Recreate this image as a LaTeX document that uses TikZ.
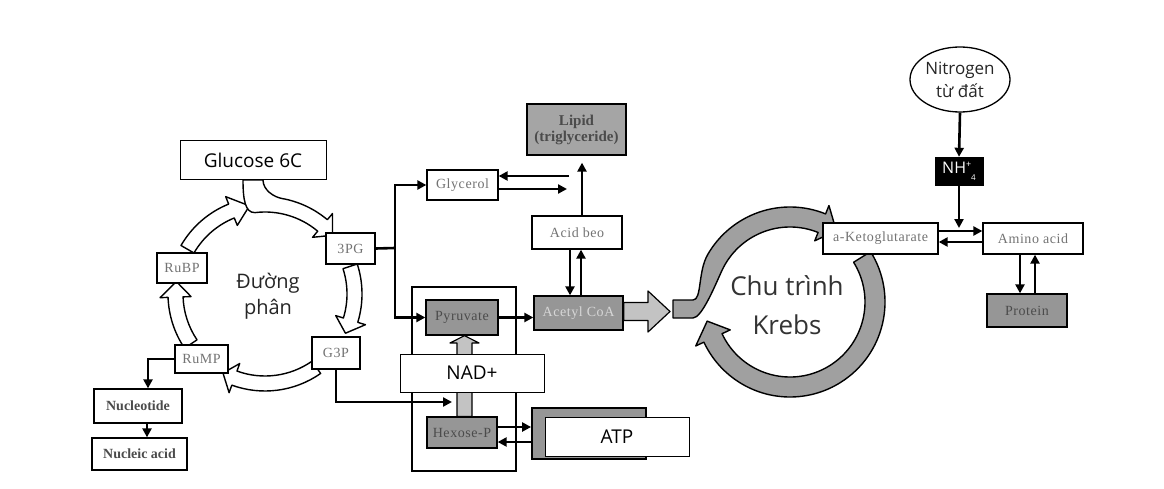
\documentclass[tikz,border=0pt]{standalone}
\usepackage{fontspec}
\setmainfont{Liberation Serif}
\newfontfamily\sansf{Open Sans}
\newfontfamily\lsf[LetterSpace=4]{Liberation Serif}
\usetikzlibrary{arrows.meta,shapes.geometric,calc}
\definecolor{boxgray}{RGB}{150,150,150}
\definecolor{lipgray}{RGB}{165,165,165}
\definecolor{arcgray}{RGB}{160,160,160}
\definecolor{ltgray}{RGB}{195,195,195}
\definecolor{txtgray}{RGB}{115,115,115}
\definecolor{darktxt}{RGB}{75,75,75}
\definecolor{lighttxt}{RGB}{215,215,215}
\newcommand{\harc}[3]{%
  \draw[hollow] (#1:97pt) arc[start angle=#1, end angle=#2, radius=97pt] -- (#2:105pt) -- (#3:89.5pt) -- (#2:74pt) -- (#2:82pt) arc[start angle=#2, end angle=#1, radius=82pt] -- cycle;}
\tikzset{
  box/.style={draw=black, line width=1.3pt, fill=white, inner sep=0pt, font=\lsf\fontsize{14pt}{16pt}\selectfont, text=txtgray},
  gbox/.style={box, fill=boxgray, text=darktxt},
  sbox/.style={draw=black, line width=1pt, fill=white, inner sep=0pt, font=\sansf\fontsize{19pt}{22pt}\selectfont},
  arr/.style={line width=2.6pt, -{Triangle[length=9pt,width=9pt]}},
  ln/.style={line width=2.6pt},
  hollow/.style={draw=black, line width=1.4pt, fill=white, line join=round},
  grayarc/.style={draw=black, line width=1.4pt, fill=arcgray, line join=round},
}
\begin{document}
\begin{tikzpicture}[x=1pt,y=1pt]
\fill[white] (0,0) rectangle (1164,-489);
\useasboundingbox (0,0) rectangle (1164,-489);

% ---------- glycolysis cycle ----------
\begin{scope}[shift={(265,-294)}]
  \harc{150}{112}{100}
  \harc{18}{-17}{-26}
  \harc{-55}{-110}{-118}
  \harc{214}{182}{172}
  % glucose band merging into the arc towards 3PG
  \draw[hollow] (-22,114) .. controls (-22,95) and (-20,81) .. (97:82pt)
     arc[start angle=97, end angle=50, radius=82pt] -- (50:74pt) -- (41:89.5pt) -- (50:105pt) -- (50:97pt)
     arc[start angle=50, end angle=80, radius=97pt] .. controls (8.8,97) and (-2,104) .. (-2,114) -- cycle;
\end{scope}
\node[font=\sansf\fontsize{20pt}{26pt}\selectfont, align=center, text=black!85] (gly) at (268,-296) {Đường\\phân};

\node[sbox, minimum width=146pt, minimum height=39pt] (glu) at (253,-160.5) {Glucose 6C};
\node[box, minimum width=50pt, minimum height=30pt] (rubp) at (182,-268) {RuBP};
\node[box, minimum width=49pt, minimum height=31pt] (pg) at (350.5,-248.5) {3PG};
\node[box, minimum width=48pt, minimum height=32pt] (g3p) at (336,-353) {G3P};
\node[box, minimum width=53pt, minimum height=28pt] (rump) at (201.5,-359) {RuMP};
\node[box, font=\bfseries\fontsize{14pt}{16pt}\selectfont, text=darktxt, minimum width=88pt, minimum height=34pt] (nucl) at (138,-406) {Nucleotide};
\node[box, font=\bfseries\fontsize{14pt}{16pt}\selectfont, text=darktxt, minimum width=95pt, minimum height=32pt] (nacid) at (139.5,-454) {Nucleic acid};

\draw[arr] (rump.west) -| ([xshift=10pt]nucl.north);
\draw[arr] ([xshift=9pt]nucl.south) -- ([xshift=9pt]nucl.south |- nacid.north);

% ---------- middle ----------
\node[draw=black, line width=1.2pt, minimum width=104pt, minimum height=184pt, inner sep=0pt] (big) at (464,-379) {};
\node[box, minimum width=71pt, minimum height=30pt] (glyc) at (462.5,-185) {Glycerol};
\node[box, fill=lipgray, text=darktxt, font=\bfseries\fontsize{15pt}{16pt}\selectfont, align=center, minimum width=99pt, minimum height=51pt] (lipid) at (576.5,-129.5) {Lipid\\(triglyceride)};
\node[box, minimum width=90pt, minimum height=33pt] (acid) at (577,-232.5) {Acid beo};
\node[gbox, text=lighttxt, minimum width=89pt, minimum height=34pt] (acetyl) at (578.5,-313) {Acetyl CoA};
\node[gbox, minimum width=72pt, minimum height=35pt] (pyr) at (462,-317.5) {Pyruvate};
\node[gbox, minimum width=70pt, minimum height=31pt] (hex) at (462,-432.5) {Hexose-P};
\draw[draw=black, line width=1.2pt, fill=ltgray, line join=round]
  ([xshift=-5pt]hex.north) -- ([xshift=-5pt]hex.north |- 0,-343) -- ([xshift=-12pt]hex.north |- 0,-343)
  -- ([xshift=2.5pt]pyr.south) -- ([xshift=17pt]hex.north |- 0,-343) -- ([xshift=10pt]hex.north |- 0,-343)
  -- ([xshift=10pt]hex.north) -- cycle;
\node[sbox, minimum width=144pt, minimum height=38pt] (nad) at (472,-373) {NAD+};
\node[draw=black, line width=1.8pt, fill=boxgray, minimum width=114pt, minimum height=51pt, inner sep=0pt] (gbx) at (589,-433.5) {};
\node[sbox, minimum width=144pt, minimum height=39pt] (atp) at (617,-436.5) {ATP};

\coordinate (jx) at (395,-248);
\draw[ln] (pg.east) -- (jx);
\draw[arr] (jx) |- (glyc.west);
\draw[arr] (jx) |- (pyr.west);
\coordinate (gla) at (569,-176);
\coordinate (glb) at (567,-189);
\draw[arr] (gla) -- (gla -| glyc.east);
\draw[arr] (glyc.east |- glb) -- (glb);
\draw[arr, shorten >=7pt] ([xshift=5pt]acid.north) -- ([xshift=5pt]acid.north |- lipid.south);
\draw[arr] ([xshift=-7pt]acid.south) -- ([xshift=-7pt]acid.south |- acetyl.north);
\draw[arr] ([xshift=4pt]acid.south |- acetyl.north) -- ([xshift=4pt]acid.south);
\draw[arr] (pyr.east) -- (pyr.east -| acetyl.west);
\coordinate (hx) at (452,-402);
\draw[arr] (g3p.south) |- (hx);
\draw[arr] ([yshift=5.5pt]hex.east) -- ([yshift=5.5pt]hex.east -| gbx.west);
\draw[arr] ([yshift=-9.5pt]hex.east -| gbx.west) -- ([yshift=-9.5pt]hex.east);

% hollow arrow Acetyl CoA -> Krebs
\draw[draw=black, line width=1.2pt, fill=ltgray, line join=round]
  ([yshift=10.5pt]acetyl.east) -- (648,-302.5) -- (648,-291) -- (670,-311.5) -- (648,-332) -- (648,-320.5) -- ([yshift=-7.5pt]acetyl.east) -- cycle;

% ---------- Krebs ----------
\begin{scope}[shift={(790,-302)}]
  \draw[grayarc] (-117,2) -- (-97,2) .. controls (-88,2) and (-92.3,30.2) .. (150:95pt)
     arc[start angle=150, end angle=68, radius=95pt] -- (68:104pt) -- (57:85pt) -- (68:66pt) -- (68:75pt)
     arc[start angle=68, end angle=155, radius=75pt] .. controls (-74.3,18.1) and (-88,-16) .. (-97,-16) -- (-117,-16) -- cycle;
  \draw[grayarc] (32:95pt) arc[start angle=32, end angle=-155, radius=95pt] -- (-155:104pt) -- (-167:85pt) -- (-155:66pt) -- (-155:75pt)
     arc[start angle=-155, end angle=32, radius=75pt] -- cycle;
\end{scope}
\node[font=\sansf\fontsize{26pt}{39pt}\selectfont, align=center, text=black!80] (krebs) at (787,-305) {Chu trình\\Krebs};

% ---------- nitrogen ----------
\node[box, minimum width=115pt, minimum height=31pt] (ak) at (880.5,-238.5) {a-Ketoglutarate};
\node[box, minimum width=100pt, minimum height=31pt] (amino) at (1033,-238.5) {Amino acid};
\node[ellipse, draw=black, line width=1.3pt, fill=white, inner sep=0pt, minimum width=100pt, minimum height=65pt, align=center, font=\sansf\fontsize{17pt}{23pt}\selectfont, text=black!85] (nit) at (960,-79.5) {Nitrogen\\từ đất};
\node[draw=black, fill=black, text=white, inner sep=0pt, minimum width=48pt, minimum height=28pt, font=\sansf\fontsize{16pt}{18pt}\selectfont] (nh4) at (959,-171) {NH\raisebox{6pt}{\fontsize{9pt}{9pt}\selectfont+}\raisebox{-7pt}{\fontsize{8pt}{8pt}\selectfont 4}};
\node[gbox, minimum width=80pt, minimum height=33pt] (prot) at (1027,-310.5) {Protein};

\draw[arr] (nit.south) -- (nh4.north);
\coordinate (nhe) at (959,-228);
\draw[arr] (nh4.south) -- (nhe);
\draw[arr] ([yshift=7.5pt]ak.east) -- ([yshift=7.5pt]ak.east -| amino.west);
\draw[arr] ([yshift=-3.5pt]amino.west) -- ([yshift=-3.5pt]amino.west -| ak.east);
\draw[arr] ([xshift=-13pt]amino.south) -- ([xshift=-13pt]amino.south |- prot.north);
\draw[arr] ([xshift=2pt]amino.south |- prot.north) -- ([xshift=2pt]amino.south);
\end{tikzpicture}
\end{document}
